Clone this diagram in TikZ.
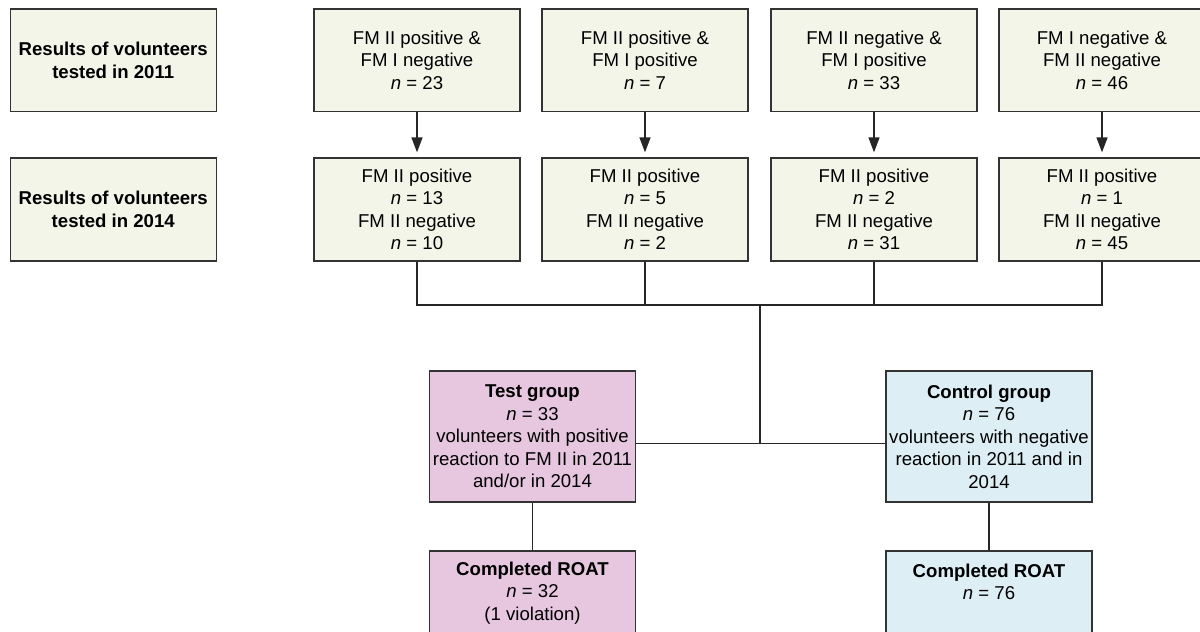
\documentclass[tikz,border=0pt]{standalone}
\usepackage{fontspec}
\setmainfont{Liberation Sans}
\usetikzlibrary{arrows.meta}
\definecolor{beige}{HTML}{F4F5E9}
\definecolor{pinkbox}{HTML}{E7C6E0}
\definecolor{bluebox}{HTML}{DDEFF5}
\definecolor{boxline}{HTML}{333333}
\begin{document}
\begin{tikzpicture}[x=1pt,y=-1pt,
  box/.style={draw=boxline, line width=1.3pt, fill=#1, minimum width=206pt,
    inner xsep=0pt, inner ysep=0pt, align=center,
    font=\fontsize{18.6}{22.5}\selectfont},
  toprow/.style={box=beige, minimum height=102.5pt},
  midrow/.style={box=beige, minimum height=103pt},
  grp/.style={box=#1, minimum height=131pt},
  roat/.style={box=#1, minimum height=84pt},
  conn/.style={draw=black!85, line width=1.4pt},
  arr/.style={conn, -{Triangle[length=15pt,width=11pt]}, shorten >=5pt}
]
\useasboundingbox (0,0) rectangle (1200,632);
\clip (0,0) rectangle (1200,632);

% row labels
\node[toprow] (l1) at (113.25,60.25) {\textbf{Results of volunteers}\\\textbf{tested in 2011}};
\node[midrow] (l2) at (113.25,209.5) {\textbf{Results of volunteers}\\\textbf{tested in 2014}};

% 2011 row
\node[toprow] (t1) at (417,60.25) {FM II positive \&\\FM I negative\\\textit{n} = 23};
\node[toprow] (t2) at (645,60.25) {FM II positive \&\\FM I positive\\\textit{n} = 7};
\node[toprow] (t3) at (874,60.25) {FM II negative \&\\FM I positive\\\textit{n} = 33};
\node[toprow] (t4) at (1102,60.25) {FM I negative \&\\FM II negative\\\textit{n} = 46};

% 2014 row
\node[midrow] (b1) at (417,209.5) {FM II positive\\\textit{n} = 13\\FM II negative\\\textit{n} = 10};
\node[midrow] (b2) at (645,209.5) {FM II positive\\\textit{n} = 5\\FM II negative\\\textit{n} = 2};
\node[midrow] (b3) at (874,209.5) {FM II positive\\\textit{n} = 2\\FM II negative\\\textit{n} = 31};
\node[midrow] (b4) at (1102,209.5) {FM II positive\\\textit{n} = 1\\FM II negative\\\textit{n} = 45};

% groups
\node[grp=pinkbox] (tg) at (532.5,436.5) {\textbf{Test group}\\\textit{n} = 33\\volunteers with positive\\reaction to FM II in 2011\\and/or in 2014};
\node[grp=bluebox] (cg) at (989,436.5) {\textbf{Control group}\\\textit{n} = 76\\volunteers with negative\\reaction in 2011 and in\\2014};

\node[roat=pinkbox] (tr) at (532.5,593) {\textbf{Completed ROAT}\\\textit{n} = 32\\(1 violation)};
\node[roat=bluebox] (cr) at (989,593) {\textbf{Completed ROAT}\\\textit{n} = 76\\\mbox{}};

\coordinate (bus) at (760,305);
\coordinate (junc) at (760,443.3);

% arrows 2011 -> 2014
\draw[arr] (t1.south) -- (b1.north);
\draw[arr] (t2.south) -- (b2.north);
\draw[arr] (t3.south) -- (b3.north);
\draw[arr] (t4.south) -- (b4.north);

% bus
\draw[conn] (b1.south) |- (bus);
\draw[conn] (b2.south) |- (bus);
\draw[conn] (b3.south) |- (bus);
\draw[conn] (b4.south) |- (bus);
\draw[conn] (bus) -- (junc);
\draw[conn] (tg.east |- junc) -- (cg.west |- junc);

\draw[conn] (tg.south) -- (tr.north);
\draw[conn] (cg.south) -- (cr.north);
\end{tikzpicture}
\end{document}
